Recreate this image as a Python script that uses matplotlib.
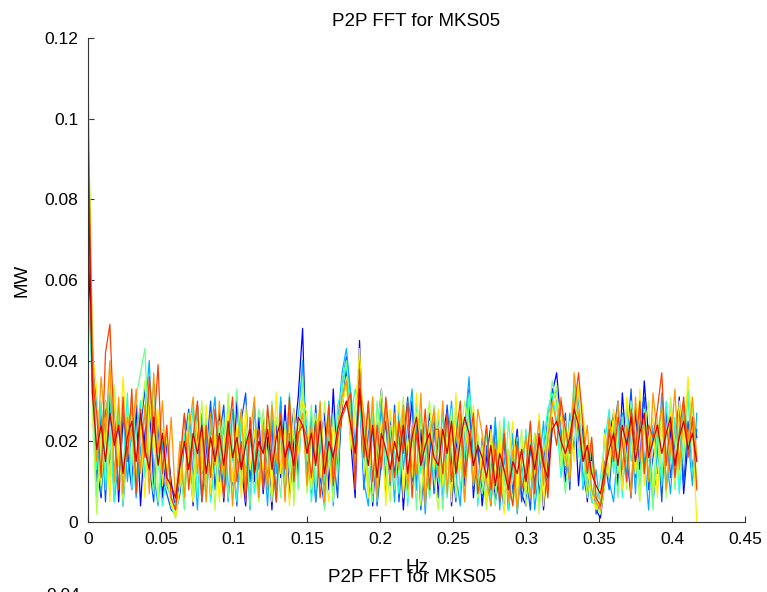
import matplotlib
matplotlib.use('Agg')
import matplotlib.pyplot as plt
import numpy as np

plt.rcParams['font.family'] = ['Liberation Sans', 'DejaVu Sans']

# frequency bins (Hz), 0 .. 0.417
freq = np.linspace(0, 0.417, 140)

# FFT amplitudes, in thousandths of MW, one list per run (blue -> red)
s0 = [70, 36, 14, 6, 30, 12, 33, 5, 26, 18,
      8, 29, 4, 22, 31, 9, 25, 6, 20, 10,
      3, 10, 26, 21, 4, 29, 12, 24, 6, 19,
      27, 5, 22, 9, 30, 14, 4, 23, 10, 26,
      7, 21, 3, 25, 11, 29, 6, 20, 31, 48,
      9, 23, 5, 19, 27, 8, 33, 12, 28, 38,
      20, 6, 45, 14, 29, 4, 21, 33, 8, 26,
      11, 24, 3, 19, 30, 8, 23, 5, 17, 26,
      6, 21, 28, 4, 18, 25, 9, 33, 6, 20,
      4, 16, 24, 5, 12, 21, 3, 14, 23, 7,
      4, 19, 9, 22, 3, 15, 32, 37, 24, 10,
      20, 29, 9, 24, 5, 17, 3, 1, 10, 21,
      27, 9, 32, 17, 6, 28, 13, 35, 21, 5,
      16, 29, 8, 23, 12, 31, 7, 20, 26, 21]
s1 = [55, 44, 10, 27, 5, 31, 11, 25, 4, 21,
      29, 8, 23, 33, 14, 5, 26, 11, 7, 3,
      2, 7, 20, 28, 10, 23, 5, 17, 30, 8,
      21, 29, 6, 18, 4, 25, 32, 10, 22, 6,
      27, 12, 24, 5, 30, 8, 19, 28, 11, 35,
      22, 7, 29, 11, 4, 23, 17, 6, 34, 41,
      30, 13, 32, 8, 22, 27, 4, 15, 25, 9,
      29, 5, 20, 31, 10, 24, 3, 16, 27, 7,
      22, 9, 29, 15, 5, 25, 11, 31, 8, 20,
      6, 19, 4, 24, 12, 3, 18, 7, 22, 5,
      12, 3, 22, 7, 15, 26, 33, 30, 17, 27,
      8, 31, 21, 12, 6, 19, 2, 5, 15, 8,
      22, 30, 9, 19, 33, 11, 24, 31, 8, 16,
      23, 5, 28, 11, 20, 30, 9, 25, 13, 23]
s2 = [95, 40, 29, 7, 22, 33, 5, 16, 28, 10,
      23, 6, 18, 27, 40, 12, 4, 20, 9, 6,
      3, 17, 7, 26, 19, 3, 27, 10, 22, 31,
      10, 25, 5, 28, 16, 8, 22, 3, 29, 13,
      20, 4, 26, 12, 31, 7, 22, 10, 25, 40,
      12, 27, 5, 20, 9, 30, 4, 24, 37, 43,
      32, 19, 35, 10, 4, 24, 15, 29, 7, 21,
      5, 28, 13, 24, 33, 8, 19, 2, 23, 11,
      27, 5, 18, 30, 12, 4, 23, 36, 15, 9,
      21, 5, 12, 26, 3, 16, 8, 22, 2, 14,
      6, 20, 3, 14, 25, 8, 30, 33, 21, 13,
      27, 18, 32, 8, 17, 5, 13, 3, 23, 10,
      5, 19, 27, 11, 23, 7, 30, 16, 3, 24,
      12, 32, 17, 7, 24, 14, 29, 21, 9, 27]
s3 = [60, 33, 13, 30, 8, 23, 5, 28, 12, 32,
      8, 21, 30, 11, 24, 34, 16, 4, 12, 4,
      1, 9, 22, 13, 29, 6, 18, 26, 5, 15,
      25, 9, 30, 17, 5, 27, 12, 23, 7, 18,
      9, 28, 15, 6, 23, 14, 32, 8, 20, 30,
      24, 5, 16, 28, 10, 22, 7, 29, 33, 39,
      26, 33, 28, 18, 8, 29, 5, 23, 14, 27,
      17, 7, 26, 4, 21, 29, 12, 24, 6, 19,
      10, 28, 6, 20, 26, 8, 17, 32, 24, 4,
      15, 24, 5, 17, 8, 26, 3, 13, 21, 8,
      23, 6, 16, 4, 20, 28, 32, 25, 11, 22,
      14, 31, 23, 9, 19, 5, 4, 11, 20, 28,
      12, 24, 6, 29, 15, 22, 9, 27, 17, 5,
      22, 9, 30, 15, 26, 7, 21, 31, 12, 17]
s4 = [110, 34, 6, 24, 13, 36, 9, 29, 4, 22,
      14, 31, 37, 43, 17, 7, 27, 12, 22, 6,
      4, 14, 3, 23, 9, 28, 16, 5, 25, 19,
      13, 26, 6, 20, 33, 10, 24, 4, 17, 28,
      22, 9, 30, 17, 6, 25, 12, 23, 8, 36,
      15, 29, 8, 23, 3, 17, 27, 11, 35, 40,
      28, 16, 37, 25, 11, 5, 30, 19, 9, 24,
      8, 21, 30, 11, 23, 3, 27, 18, 6, 29,
      20, 3, 24, 10, 29, 17, 5, 31, 21, 12,
      7, 22, 13, 4, 19, 9, 25, 14, 3, 17,
      12, 25, 6, 19, 9, 25, 35, 29, 18, 7,
      22, 34, 16, 27, 9, 20, 6, 4, 13, 24,
      19, 6, 26, 15, 30, 22, 9, 28, 18, 3,
      26, 12, 21, 29, 8, 24, 15, 33, 22, 10]
s5 = [115, 27, 2, 22, 30, 11, 34, 17, 6, 27,
      21, 8, 26, 35, 15, 29, 5, 23, 12, 4,
      2, 19, 8, 27, 5, 17, 30, 10, 21, 3,
      24, 11, 32, 6, 20, 27, 8, 24, 14, 5,
      28, 14, 5, 26, 18, 9, 30, 4, 24, 33,
      7, 20, 27, 11, 30, 16, 5, 25, 30, 36,
      18, 29, 38, 12, 27, 7, 21, 33, 15, 5,
      24, 12, 31, 6, 19, 27, 4, 22, 30, 11,
      3, 23, 13, 28, 6, 20, 30, 24, 9, 22,
      12, 3, 21, 8, 25, 5, 18, 4, 13, 23,
      4, 11, 22, 2, 17, 23, 29, 34, 14, 25,
      11, 26, 33, 18, 6, 15, 4, 2, 9, 20,
      25, 12, 21, 8, 27, 17, 5, 23, 30, 7,
      14, 28, 6, 31, 20, 11, 27, 17, 29, 9]
s6 = [105, 42, 33, 9, 25, 5, 31, 14, 36, 19,
      30, 11, 24, 6, 32, 17, 28, 9, 22, 5,
      1, 9, 26, 15, 5, 25, 12, 29, 7, 22,
      5, 19, 27, 10, 24, 6, 29, 13, 23, 8,
      15, 25, 7, 32, 12, 23, 4, 28, 17, 30,
      27, 8, 21, 29, 14, 5, 24, 18, 29, 34,
      20, 26, 43, 21, 6, 31, 12, 25, 4, 28,
      18, 30, 6, 21, 11, 32, 16, 7, 25, 13,
      28, 9, 21, 5, 32, 13, 24, 16, 29, 6,
      19, 5, 23, 10, 21, 2, 15, 25, 7, 19,
      7, 22, 12, 27, 4, 18, 28, 31, 25, 14,
      25, 15, 34, 28, 13, 7, 3, 6, 22, 11,
      28, 17, 8, 31, 22, 12, 33, 9, 21, 26,
      6, 24, 15, 27, 10, 30, 19, 36, 23, 0]
s7 = [98, 47, 15, 36, 22, 40, 10, 31, 7, 26,
      20, 33, 12, 29, 7, 37, 17, 30, 9, 26,
      5, 20, 6, 22, 31, 12, 23, 5, 27, 14,
      30, 11, 23, 4, 19, 28, 9, 21, 31, 6,
      24, 8, 29, 15, 23, 5, 27, 13, 21, 27,
      9, 24, 15, 30, 5, 26, 12, 23, 31, 35,
      24, 14, 34, 27, 16, 31, 6, 22, 29, 10,
      27, 13, 29, 8, 24, 12, 32, 4, 21, 28,
      11, 30, 7, 24, 14, 27, 5, 22, 9, 28,
      22, 10, 4, 20, 8, 23, 5, 18, 3, 15,
      21, 6, 17, 25, 9, 21, 30, 24, 31, 16,
      10, 37, 26, 15, 24, 8, 5, 3, 14, 26,
      17, 30, 13, 24, 6, 31, 15, 26, 10, 32,
      21, 29, 8, 18, 33, 13, 27, 20, 31, 16]
s8 = [102, 35, 27, 11, 42, 49, 22, 8, 31, 15,
      33, 7, 28, 16, 36, 22, 39, 12, 24, 6,
      3, 15, 27, 8, 21, 30, 5, 24, 11, 28,
      16, 6, 21, 31, 10, 20, 5, 26, 13, 23,
      8, 29, 17, 5, 27, 13, 31, 10, 22, 24,
      21, 11, 25, 6, 17, 29, 9, 21, 26, 29,
      32, 8, 38, 16, 30, 10, 24, 13, 31, 19,
      11, 25, 17, 30, 6, 22, 15, 28, 8, 23,
      23, 12, 27, 10, 21, 30, 11, 19, 27, 7,
      14, 24, 8, 18, 5, 22, 10, 4, 20, 8,
      13, 25, 7, 22, 16, 6, 26, 19, 30, 23,
      17, 28, 37, 24, 12, 21, 6, 4, 11, 23,
      15, 26, 20, 10, 28, 18, 30, 12, 24, 21,
      28, 37, 14, 25, 11, 22, 31, 16, 26, 8]
s9 = [90, 32, 18, 24, 15, 27, 19, 24, 12, 21,
      25, 15, 27, 18, 13, 26, 14, 22, 11, 9,
      6, 14, 20, 13, 22, 17, 24, 12, 21, 15,
      22, 14, 25, 16, 21, 13, 19, 23, 12, 20,
      17, 23, 13, 21, 25, 16, 20, 14, 26, 24,
      17, 22, 14, 25, 12, 20, 16, 23, 27, 30,
      24, 17, 33, 21, 14, 24, 11, 22, 18, 13,
      20, 15, 24, 12, 21, 26, 14, 19, 22, 16,
      14, 23, 17, 25, 12, 20, 26, 22, 14, 19,
      16, 11, 19, 9, 17, 13, 8, 15, 12, 18,
      10, 19, 13, 21, 14, 11, 23, 25, 20, 17,
      21, 28, 24, 15, 19, 12, 9, 7, 13, 18,
      22, 14, 24, 19, 26, 15, 22, 27, 16, 20,
      24, 17, 22, 26, 14, 21, 25, 18, 22, 15]

runs = [s0, s1, s2, s3, s4, s5, s6, s7, s8, s9]
xticks = [0, 0.05, 0.1, 0.15, 0.2, 0.25, 0.3, 0.35, 0.4, 0.45]
yticks = [0, 0.02, 0.04, 0.06, 0.08, 0.1, 0.12]
title = 'P2P FFT for MKS05'

fig = plt.figure(figsize=(7.67, 5.92), dpi=100)
ax = fig.add_axes([0.1147, 0.1182, 0.8566, 0.8176])

colors = plt.cm.jet(np.linspace(0.12, 0.93, len(runs)))
for s, c in zip(runs, colors):
    ax.plot(freq, np.array(s) / 1000.0, color=c, lw=0.9)

ax.set_xlim(0, 0.45)
ax.set_ylim(0, 0.12)
ax.set_xticks(xticks)
ax.set_yticks(yticks)
ax.set_xticklabels(['0', '0.05', '0.1', '0.15', '0.2', '0.25', '0.3', '0.35', '0.4', '0.45'])
ax.set_yticklabels(['0', '0.02', '0.04', '0.06', '0.08', '0.1', '0.12'])
ax.spines['top'].set_visible(False)
ax.spines['right'].set_visible(False)
for sp in ['left', 'bottom']:
    ax.spines[sp].set_color('#333333')
    ax.spines[sp].set_linewidth(0.8)
ax.tick_params(direction='in', length=4, width=0.8, color='#333333',
               labelsize=12.5, pad=7)

ax.set_title(title, fontsize=13.5, pad=9)
ax.set_xlabel('Hz', fontsize=13.5, labelpad=9)
ax.set_ylabel('MW', fontsize=13.5, labelpad=10)

# next subplot underneath, mostly cut off
fig.text(0.537, 1 - 578 / 592.0, title, fontsize=13.5, ha='center', va='center')
fig.text(80 / 767.0, 1 - 588 / 592.0, '0.04', fontsize=12.5, ha='right', va='top')

fig.savefig('out.png', dpi=100)
